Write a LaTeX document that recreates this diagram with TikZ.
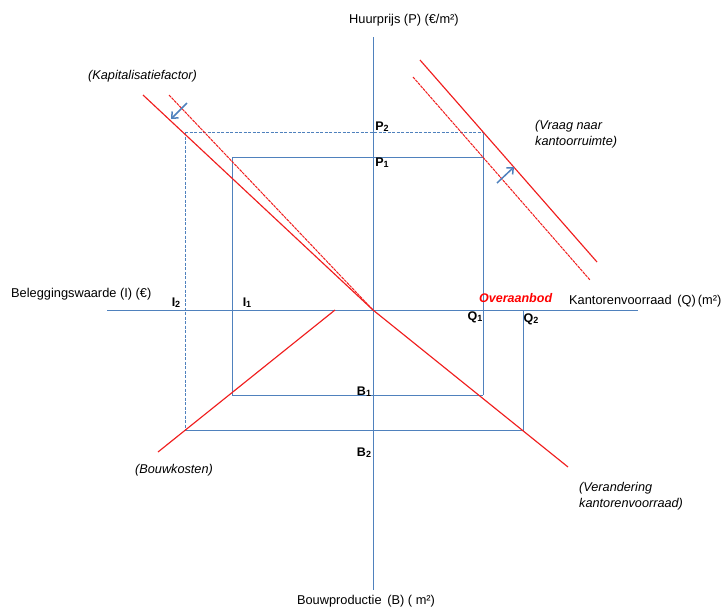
\documentclass[tikz,border=0pt]{standalone}
\usepackage{fontspec}
\setmainfont{Liberation Sans}
\usetikzlibrary{arrows.meta}
\definecolor{axblue}{RGB}{79,129,189}
\definecolor{lnred}{RGB}{240,30,30}
\newcommand\sbs[1]{\raisebox{-1.3pt}{\fontsize{9}{9}\selectfont #1}}
\tikzset{
  blueline/.style={draw=axblue, line width=0.95pt},
  bluedash/.style={draw=axblue, line width=1pt, dash pattern=on 3pt off 1.5pt},
  redline/.style={draw=lnred, line width=1.15pt},
  reddash/.style={draw=lnred, line width=1pt, dash pattern=on 3pt off 0.8pt},
  shiftarrow/.style={draw=axblue, line width=1.5pt, -{Straight Barb[length=5pt,width=9pt]}},
  lbl/.style={inner sep=0pt, font=\fontsize{12.8}{14}\selectfont},
  ilbl/.style={inner sep=0pt, font=\fontsize{12.7}{15.5}\selectfont\itshape, align=left},
  plbl/.style={inner sep=0pt, font=\fontsize{12.5}{14}\selectfont\bfseries},
}
\begin{document}
\begin{tikzpicture}[x=1pt,y=-1pt]
\useasboundingbox (0,0) rectangle (726,608);
% key points
\coordinate (O) at (373,310);
\coordinate (AL) at (107,310);
\coordinate (AR) at (638,310);
\coordinate (AT) at (373,37);
\coordinate (AB) at (373,590);
\coordinate (P2L) at (185,132);
\coordinate (P2R) at (483,132);
\coordinate (P1L) at (232,157);
\coordinate (P1R) at (483,157);
\coordinate (Q1B) at (483,395);
\coordinate (B1L) at (232,395);
\coordinate (Q2T) at (523,310);
\coordinate (Q2B) at (523,430);
\coordinate (B2L) at (185,430);
\coordinate (KS) at (143,95);
\coordinate (KD) at (169,95);
\coordinate (VS1) at (420,60);
\coordinate (VS2) at (597,262);
\coordinate (VD1) at (413,77);
\coordinate (VD2) at (590,280);
\coordinate (BK1) at (158,452);
\coordinate (BK2) at (335,310);
\coordinate (VK) at (568,467);
\coordinate (A1s) at (187,103);
\coordinate (A1e) at (171,119);
\coordinate (A2s) at (497,183);
\coordinate (A2e) at (514,167);
% blue construction lines
\draw[bluedash] (P2L) -- (P2R);
\draw[bluedash] (P2L) -- (B2L);
\draw[blueline] (P1L) -- (P1R);
\draw[blueline] (P1L) -- (B1L) -- (Q1B);
\draw[blueline] (P2R) -- (Q1B);
\draw[blueline] (B2L) -- (Q2B) -- (Q2T);
% axes
\draw[blueline] (AL) -- (AR);
\draw[blueline] (AT) -- (AB);
% red curves
\draw[reddash] (KD) -- (O);
\draw[redline] (KS) -- (O);
\draw[redline] (VS1) -- (VS2);
\draw[reddash] (VD1) -- (VD2);
\draw[redline] (BK1) -- (BK2);
\draw[redline] (O) -- (VK);
% shift arrows
\draw[shiftarrow] (A1s) -- (A1e);
\draw[shiftarrow] (A2s) -- (A2e);
% axis labels
\node[lbl] (tP) at (404,20) {Huurprijs (P) (€/m²)};
\node[lbl] (tB) at (366,601) {Bouwproductie\, (B) ( m²)};
\node[lbl, anchor=west] (tI) at (11,294) {Beleggingswaarde (I) (€)};
\node[lbl, anchor=west] (tQ) at (569,301) {Kantorenvoorraad\, (Q)\,(m²)};
\node[inner sep=0pt, anchor=west, font=\fontsize{12.5}{14}\selectfont\bfseries\itshape, text=red] (tOv) at (479,298) {Overaanbod};
% curve labels
\node[ilbl, anchor=west] (tK) at (88,76) {(Kapitalisatiefactor)};
\node[ilbl, anchor=west] (tV) at (535,134) {(Vraag naar\\kantoorruimte)};
\node[ilbl, anchor=west] (tBk) at (135,470) {(Bouwkosten)};
\node[ilbl, anchor=west] (tVk) at (579,496) {(Verandering\\kantorenvoorraad)};
% point labels
\node[plbl] (tP2) at (382,127) {P\sbs{2}};
\node[plbl] (tP1) at (382,163) {P\sbs{1}};
\node[plbl] (tI2) at (176,303) {I\sbs{2}};
\node[plbl] (tI1) at (247,303) {I\sbs{1}};
\node[plbl] (tQ1) at (475,317) {Q\sbs{1}};
\node[plbl] (tQ2) at (531,319) {Q\sbs{2}};
\node[plbl] (tB1) at (364,392) {B\sbs{1}};
\node[plbl] (tB2) at (364,453) {B\sbs{2}};
\end{tikzpicture}
\end{document}
